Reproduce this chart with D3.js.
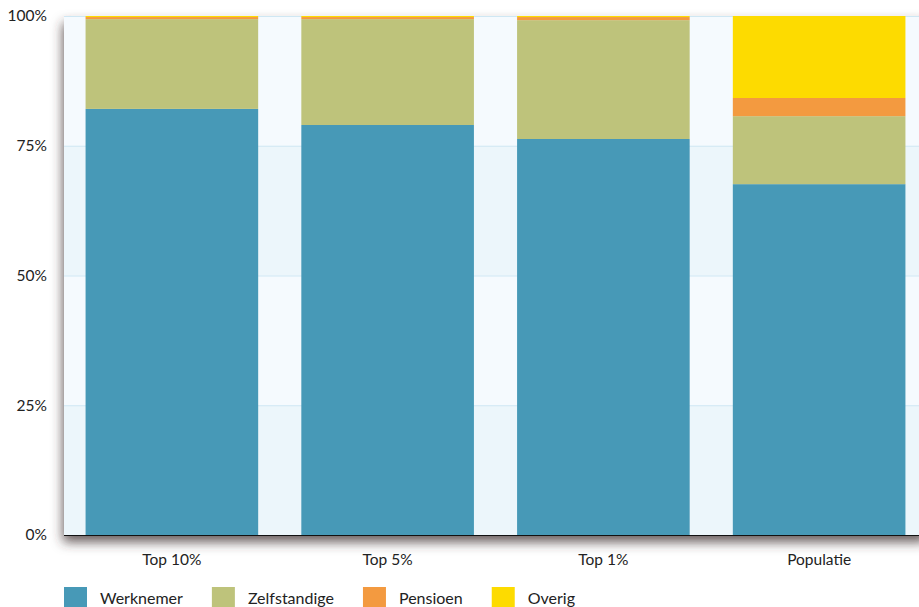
<!DOCTYPE html>
<html>
<head>
<meta charset="utf-8">
<script src="https://cdn.jsdelivr.net/npm/d3@7"></script>
<style>
  html, body { margin: 0; padding: 0; background: #fff; overflow: hidden; }
  text { font-family: Lato, "Open Sans", sans-serif; fill: #222; }
</style>
</head>
<body>
<div id="chart"></div>
<script>
var WIDTH = 919, HEIGHT = 607;

// data (percent of group)
var categories = ["Top 10%", "Top 5%", "Top 1%", "Populatie"];
var seriesNames = ["Werknemer", "Zelfstandige", "Pensioen", "Overig"];
var werknemer    = [82.1, 79.0, 76.3, 67.6];
var zelfstandige = [17.3, 20.4, 22.9, 13.1];
var pensioen     = [0.4, 0.4, 0.6, 3.5];
var overig       = [0.2, 0.2, 0.2, 15.8];
var yTicks = [0, 25, 50, 75, 100];

var colors = ["#4799b7", "#bec37b", "#f39a40", "#fddb00"];

var margin = {top: 16, left: 64, bottom: 72};
var plotH = HEIGHT - margin.top - margin.bottom;   // 519
var plotW = 863;                                   // runs past the window on the right

var table = categories.map(function(c, i) {
  return {cat: c, Werknemer: werknemer[i], Zelfstandige: zelfstandige[i],
          Pensioen: pensioen[i], Overig: overig[i]};
});
var stacked = d3.stack().keys(seriesNames)(table);

var svg = d3.select("#chart").append("svg")
    .attr("width", WIDTH)
    .attr("height", HEIGHT);

var defs = svg.append("defs");
var filter = defs.append("filter")
    .attr("id", "shadow")
    .attr("x", "-10%").attr("y", "-10%")
    .attr("width", "120%").attr("height", "125%");
filter.append("feDropShadow")
    .attr("dx", -1).attr("dy", 7)
    .attr("stdDeviation", 6)
    .attr("flood-color", "#3e322f")
    .attr("flood-opacity", 0.8);

var g = svg.append("g")
    .attr("transform", "translate(" + margin.left + "," + margin.top + ")");

var xScale = d3.scaleBand()
    .domain(categories)
    .range([0, plotW])
    .paddingInner(0.2)
    .paddingOuter(0.1);

var yScale = d3.scaleLinear()
    .domain([0, 100])
    .range([plotH, 0]);

// plot background with shadow
g.append("rect")
    .attr("width", plotW)
    .attr("height", plotH)
    .attr("fill", "#f5fafe")
    .attr("filter", "url(#shadow)");

// alternating bands
var bands = d3.pairs(yTicks);
g.selectAll(".band")
  .data(bands)
  .enter().append("rect")
    .attr("class", "band")
    .attr("x", 0)
    .attr("width", plotW)
    .attr("y", function(d) { return yScale(d[1]); })
    .attr("height", function(d) { return yScale(d[0]) - yScale(d[1]); })
    .attr("fill", function(d, i) { return i % 2 === 0 ? "#ecf6fb" : "#f5fafe"; });

// grid lines
g.selectAll(".grid")
  .data(yTicks.slice(1))
  .enter().append("line")
    .attr("x1", 0).attr("x2", plotW)
    .attr("y1", function(d) { return yScale(d) + 0.5; })
    .attr("y2", function(d) { return yScale(d) + 0.5; })
    .attr("stroke", "#cfe7f3")
    .attr("stroke-width", 1);

// bars
g.selectAll(".series")
  .data(stacked)
  .enter().append("g")
    .attr("class", "series")
    .attr("fill", function(d, i) { return colors[i]; })
  .selectAll("rect")
  .data(function(d) { return d; })
  .enter().append("rect")
    .attr("x", function(d) { return xScale(d.data.cat); })
    .attr("width", xScale.bandwidth())
    .attr("y", function(d) { return yScale(d[1]); })
    .attr("height", function(d) { return yScale(d[0]) - yScale(d[1]); });

// bottom axis line
g.append("line")
    .attr("x1", 0).attr("x2", plotW)
    .attr("y1", plotH + 0.5).attr("y2", plotH + 0.5)
    .attr("stroke", "#111")
    .attr("stroke-width", 1.2);

// y axis
var yAxis = g.append("g")
    .call(d3.axisLeft(yScale).tickValues(yTicks).tickSize(0).tickPadding(17)
      .tickFormat(function(d) { return d + "%"; }))
    .call(function(a) { a.select(".domain").remove(); });
yAxis.selectAll("text")
    .style("font-size", "15.5px")
    .attr("fill", "#222");

// x axis
var xAxis = g.append("g")
    .attr("transform", "translate(0," + plotH + ")")
    .call(d3.axisBottom(xScale).tickSize(0).tickPadding(19))
    .call(function(a) { a.select(".domain").remove(); });
xAxis.selectAll("text")
    .style("font-size", "15.5px")
    .attr("fill", "#222");

// legend
var legend = svg.append("g")
    .attr("transform", "translate(" + margin.left + ",587)");
var lx = 0;
seriesNames.forEach(function(name, i) {
  var item = legend.append("g").attr("transform", "translate(" + lx + ",0)");
  item.append("rect")
      .attr("width", 23).attr("height", 23)
      .attr("fill", colors[i]);
  var t = item.append("text")
      .attr("x", 36).attr("y", 16.5)
      .style("font-size", "16px")
      .text(name);
  lx += 36 + t.node().getComputedTextLength() + 29;
});
</script>
</body>
</html>
